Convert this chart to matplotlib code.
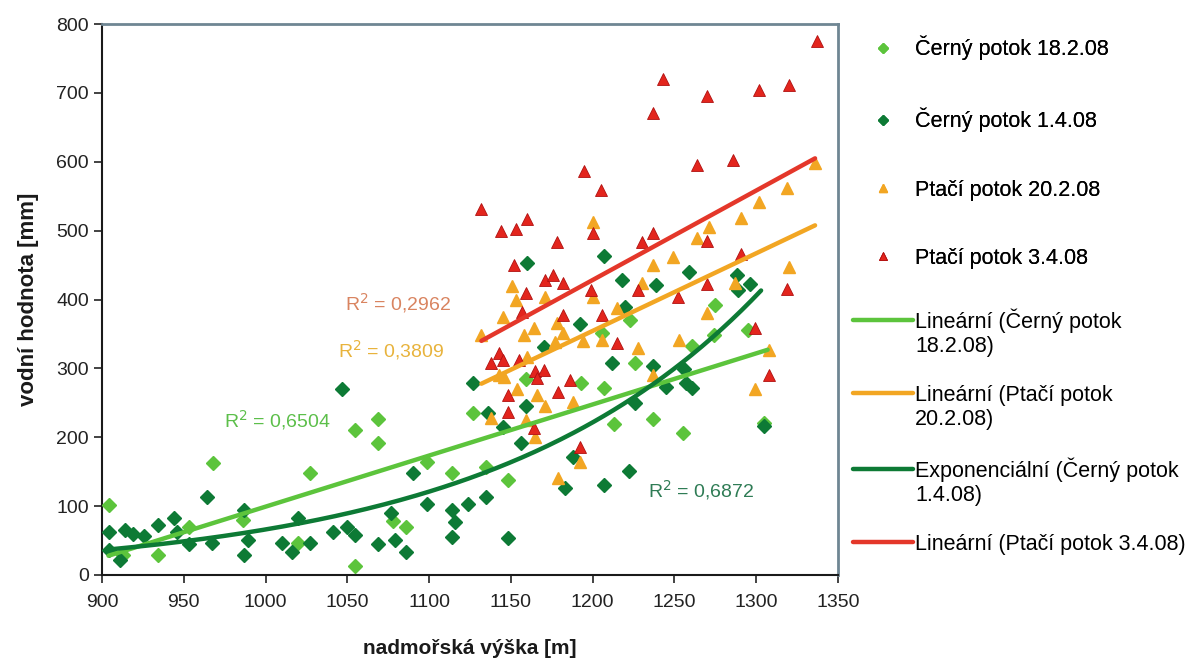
import matplotlib
matplotlib.use("Agg")
import matplotlib.pyplot as plt
import numpy as np
from matplotlib.lines import Line2D

plt.rcParams['font.family'] = ['Liberation Sans', 'DejaVu Sans']

# ---------------- data ----------------
cerny_182_x = [904, 913, 934, 953, 968, 986, 1020, 1027, 1055, 1069, 1069, 1055, 1078, 1086,
               1099, 1114, 1127, 1135, 1148, 1159, 1193, 1207, 1213, 1237, 1226, 1255, 1261,
               1274, 1275, 1295, 1223, 1206, 1305]
cerny_182_y = [102, 29, 29, 70, 163, 80, 46, 148, 210, 226, 191, 13, 78, 70,
               164, 148, 235, 157, 138, 284, 279, 271, 219, 226, 308, 206, 332,
               348, 392, 355, 370, 351, 220]

cerny_14_x = [904, 914, 919, 926, 934, 944, 946, 953, 964, 967, 987, 989, 987, 1010, 1016,
              1020, 1027, 1041, 1047, 1050, 1055, 1069, 1077, 1079, 1086, 1090, 1099, 1114,
              1116, 1114, 911, 904, 1124, 1135, 1148, 1127, 1136, 1145, 1156, 1159, 1170,
              1192, 1220, 1212, 1237, 1245, 1256, 1261, 1257, 1226, 1305, 1188, 1183, 1207,
              1222, 1239, 1296, 1289, 1288, 1259, 1160, 1207, 1218]
cerny_14_y = [62, 65, 60, 56, 73, 83, 62, 45, 113, 46, 94, 51, 29, 46, 33,
              83, 46, 62, 270, 70, 58, 45, 90, 51, 33, 148, 103, 94,
              77, 55, 22, 36, 103, 113, 54, 279, 235, 215, 191, 246, 331,
              364, 389, 308, 303, 273, 299, 271, 279, 250, 216, 171, 126, 131,
              151, 421, 422, 414, 435, 440, 453, 463, 428]

ptaci_202_x = [1336, 1319, 1302, 1291, 1271, 1264, 1249, 1237, 1200, 1320, 1151, 1153, 1171,
               1200, 1145, 1164, 1158, 1178, 1182, 1215, 1230, 1228, 1206, 1132, 1143, 1160,
               1177, 1194, 1253, 1270, 1287, 1308, 1299, 1237, 1166, 1154, 1159, 1138, 1171,
               1188, 1192, 1179, 1165, 1146]
ptaci_202_y = [598, 562, 541, 518, 505, 490, 461, 450, 512, 447, 419, 399, 403,
               403, 374, 358, 348, 366, 351, 388, 424, 329, 341, 348, 290, 316,
               338, 340, 341, 380, 424, 327, 270, 290, 261, 270, 225, 228, 245,
               251, 164, 141, 200, 287]

ptaci_34_x = [1337, 1243, 1237, 1270, 1302, 1320, 1264, 1286, 1195, 1205, 1132, 1144, 1153,
              1160, 1178, 1200, 1237, 1230, 1270, 1291, 1319, 1152, 1171, 1176, 1182, 1199,
              1228, 1270, 1159, 1206, 1182, 1157, 1215, 1143, 1138, 1145, 1155, 1165, 1170,
              1166, 1148, 1148, 1179, 1186, 1299, 1308, 1192, 1164, 1252]
ptaci_34_y = [775, 720, 671, 696, 704, 712, 595, 602, 586, 559, 531, 499, 502,
              517, 483, 496, 496, 483, 485, 466, 415, 450, 428, 435, 424, 414,
              414, 422, 409, 377, 377, 382, 337, 322, 308, 312, 312, 296, 297,
              286, 261, 237, 266, 283, 358, 290, 186, 213, 403]

# trend lines (Excel): linear y = a*x + b, exponential y = A*exp(k*x)
lin_cerny_182 = (0.742, -642.8, 904, 1307)
lin_ptaci_202 = (1.127, -998.0, 1132, 1336)
lin_ptaci_34 = (1.299, -1130.5, 1132, 1336)
exp_cerny_14 = (37.0 * np.exp(-0.006047 * 904), 0.006047, 904, 1303)

r2_labels = ["R$^2$ = 0,2962", "R$^2$ = 0,3809", "R$^2$ = 0,6504", "R$^2$ = 0,6872"]
r2_pos = [(1081, 395), (1077, 327), (1007, 225), (1266, 123)]

x_ticks = [900, 950, 1000, 1050, 1100, 1150, 1200, 1250, 1300, 1350]
y_ticks = [0, 100, 200, 300, 400, 500, 600, 700, 800]

series_labels = ['Černý potok 18.2.08', 'Černý potok 1.4.08', 'Ptačí potok 20.2.08', 'Ptačí potok 3.4.08']
trend_labels = [('Lineární (Černý potok', '18.2.08)'), ('Lineární (Ptačí potok', '20.2.08)'),
                ('Exponenciální (Černý potok', '1.4.08)'), ('Lineární (Ptačí potok 3.4.08)',)]

# ---------------- styles ----------------
c_light = '#5cc43c'
c_dark = '#0d7a35'
c_orange = '#f2a623'
c_red = '#e3251d'

fig = plt.figure(figsize=(11.94, 6.6), dpi=100)
ax = fig.add_axes([0.0854, 0.1288, 0.6164, 0.8348])

ms_d = 7
ms_t = 8
h1, = ax.plot(cerny_182_x, cerny_182_y, 'D', color=c_light, ms=ms_d, mec=c_light, ls='none', zorder=3)
h2, = ax.plot(cerny_14_x, cerny_14_y, 'D', color=c_dark, ms=ms_d, mec=c_dark, ls='none', zorder=3)
h3, = ax.plot(ptaci_202_x, ptaci_202_y, '^', color=c_orange, ms=ms_t, mec=c_orange, ls='none', zorder=3)
h4, = ax.plot(ptaci_34_x, ptaci_34_y, '^', color=c_red, ms=ms_t, mec='#b01010', mew=0.6, ls='none', zorder=3)

def lin(p):
    a, b, x0, x1 = p
    xs = np.linspace(x0, x1, 50)
    return xs, a * xs + b

def expo(p):
    A, k, x0, x1 = p
    xs = np.linspace(x0, x1, 200)
    return xs, A * np.exp(k * xs)

lw = 3.2
xs, ys = lin(lin_cerny_182)
l1, = ax.plot(xs, ys, color=c_light, lw=lw, zorder=4, solid_capstyle='round')
xs, ys = lin(lin_ptaci_202)
l2, = ax.plot(xs, ys, color=c_orange, lw=lw, zorder=4, solid_capstyle='round')
xs, ys = expo(exp_cerny_14)
l3, = ax.plot(xs, ys, color=c_dark, lw=lw, zorder=4, solid_capstyle='round')
xs, ys = lin(lin_ptaci_34)
l4, = ax.plot(xs, ys, color='#e4372a', lw=lw, zorder=4, solid_capstyle='round')

r2_colors = ['#d98460', '#e8b33c', '#5cbf4a', '#2f7c55']
for lab, (x, y), c in zip(r2_labels, r2_pos, r2_colors):
    ax.text(x, y, lab, color=c, fontsize=14, ha='center', va='center', zorder=5)

ax.set_xlim(900, 1350)
ax.set_ylim(0, 800)
ax.set_xticks(x_ticks)
ax.set_yticks(y_ticks)
ax.tick_params(axis='both', labelsize=14, length=6, width=1.2, direction='out', color='#222222',
               labelcolor='#222222')
ax.tick_params(axis='x', pad=8)
for s in ['left', 'bottom']:
    ax.spines[s].set_color('#1a1a1a')
    ax.spines[s].set_linewidth(1.5)
for s in ['top', 'right']:
    ax.spines[s].set_color('#6f8693')
    ax.spines[s].set_linewidth(2.0)

ax.set_xlabel('nadmořská výška [m]', fontsize=15, fontweight='bold', labelpad=20, color='#1a1a1a')
ax.set_ylabel('vodní hodnota [mm]', fontsize=16, fontweight='bold', labelpad=12, color='#1a1a1a')

leg1 = fig.legend([h1, h2, h3, h4], series_labels,
                  loc='upper left', bbox_to_anchor=(0.698, 0.975), frameon=False, fontsize=15.5,
                  labelspacing=2.2, handlelength=2.8, handletextpad=0.1, markerscale=0.75)
fig.add_artist(leg1)

# trend-line legend: first text line carries the handle, as in the original
blank = Line2D([], [], alpha=0)
handles2, labels2 = [], []
for i, (h, lab) in enumerate(zip([l1, l2, l3, l4], trend_labels)):
    handles2.append(h)
    labels2.append(lab[0])
    for extra in lab[1:]:
        handles2.append(blank)
        labels2.append(extra)
    if i < 3:
        handles2.append(blank)
        labels2.append('')
leg2 = fig.legend(handles2, labels2,
                  loc='upper left', bbox_to_anchor=(0.698, 0.562), frameon=False, fontsize=15.5,
                  labelspacing=0.15, handlelength=2.8, handletextpad=0.1)

fig.savefig('out.png', dpi=100)
